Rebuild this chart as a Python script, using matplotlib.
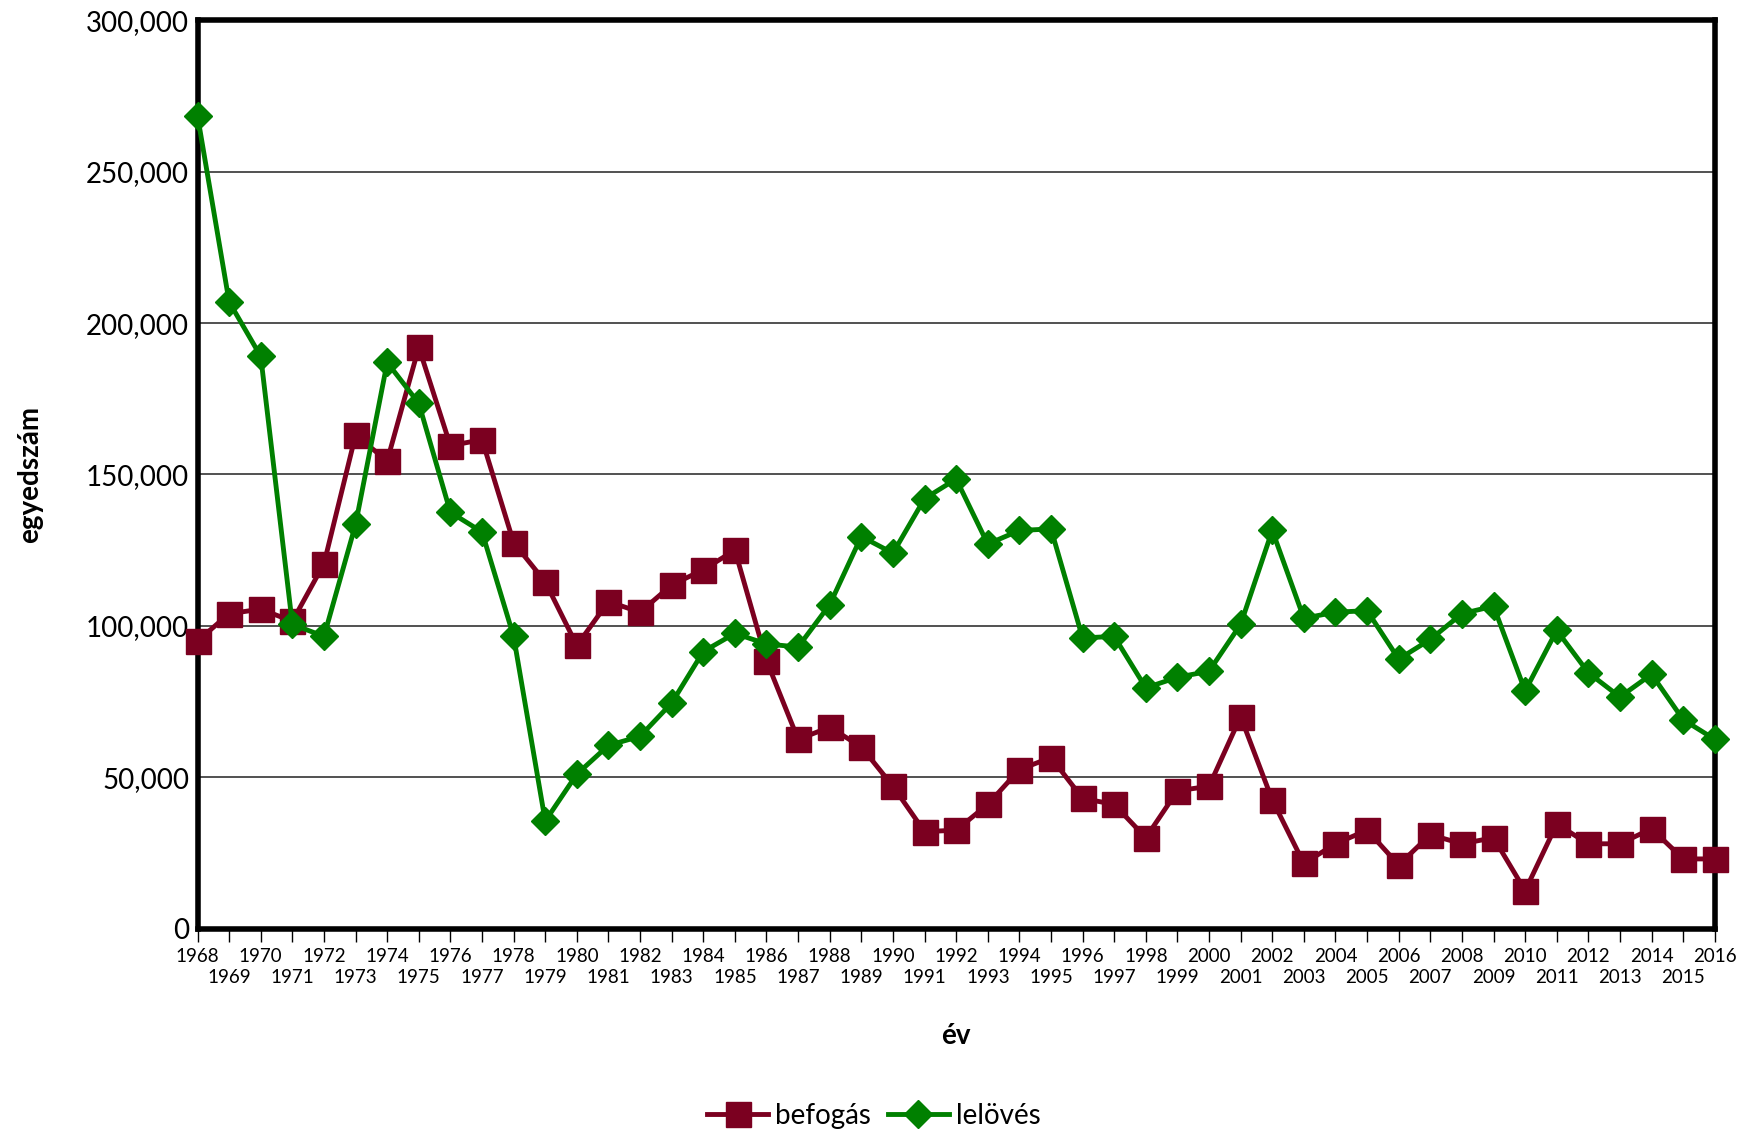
import numpy as np
import matplotlib
matplotlib.use("Agg")
import matplotlib.pyplot as plt
from matplotlib.ticker import FuncFormatter

plt.rcParams['font.family'] = ['Lato', 'DejaVu Sans']

years = list(range(1968, 2017))

# befogás (capture)
befogas = [95000, 104000, 105500, 101500, 120500, 163000, 154500, 192000, 159500, 161500,
           127500, 114500, 93500, 108000, 104500, 113500, 118500, 125000, 88500, 62500,
           66500, 60000, 47000, 32000, 32500, 41000, 52500, 56500, 43000, 41000,
           30000, 45500, 47000, 70000, 42500, 21500, 28000, 32500, 21000, 31000,
           28000, 30000, 12500, 34500, 28000, 28000, 33000, 23000, 23000]

# lelövés (shooting)
lelloves = [268500, 207000, 189000, 100500, 96500, 133500, 187000, 173500, 137500, 131000,
            96500, 35500, 51000, 60500, 63500, 74500, 91500, 97500, 94000, 93000,
            107000, 129500, 124000, 142000, 148500, 127000, 131500, 132000, 96000, 96500,
            79500, 83000, 85000, 100500, 131500, 102500, 104500, 105000, 89000, 95500,
            104000, 106500, 78500, 98500, 84500, 76500, 84000, 69000, 62500]

maroon = '#7B0020'
green = '#008000'

fig = plt.figure(figsize=(17.48, 11.31), dpi=100)
ax = fig.add_axes([0.113, 0.179, 0.868, 0.803])

ax.plot(years, befogas, color=maroon, lw=3.5, marker='s', markersize=18,
        label='befogás', zorder=3, clip_on=False)
ax.plot(years, lelloves, color=green, lw=3.5, marker='D', markersize=14,
        label='lelövés', zorder=4, clip_on=False)

ax.set_xlim(1968, 2016)
ax.set_ylim(0, 300000)
ax.set_yticks(np.arange(0, 300001, 50000))
ax.yaxis.set_major_formatter(FuncFormatter(lambda v, p: f'{int(v):,}'))
ax.grid(axis='y', color='#333333', lw=1.2)
ax.set_axisbelow(True)

# even years on the first row, odd years on the second row
even = [y for y in years if y % 2 == 0]
odd = [y for y in years if y % 2 == 1]
ax.set_xticks(even, [str(y) for y in even])
ax.set_xticks(odd, [str(y) for y in odd], minor=True)
ax.tick_params(axis='x', which='both', length=9, width=1, direction='out', labelsize=13.5)
ax.tick_params(axis='x', which='major', pad=5)
ax.tick_params(axis='x', which='minor', pad=20)
ax.tick_params(axis='y', length=0, labelsize=20, pad=6)

for s in ax.spines.values():
    s.set_linewidth(4)
    s.set_color('black')

ax.set_ylabel('egyedszám', fontsize=20, fontweight='bold', labelpad=31)
ax.set_xlabel('év', fontsize=20, fontweight='bold', labelpad=27)

fig.legend(loc='lower center', bbox_to_anchor=(0.5, -0.02), ncol=2, frameon=False,
           fontsize=20, handlelength=2.2, columnspacing=0.6, handletextpad=0.25)

fig.savefig('out.png', dpi=100)
